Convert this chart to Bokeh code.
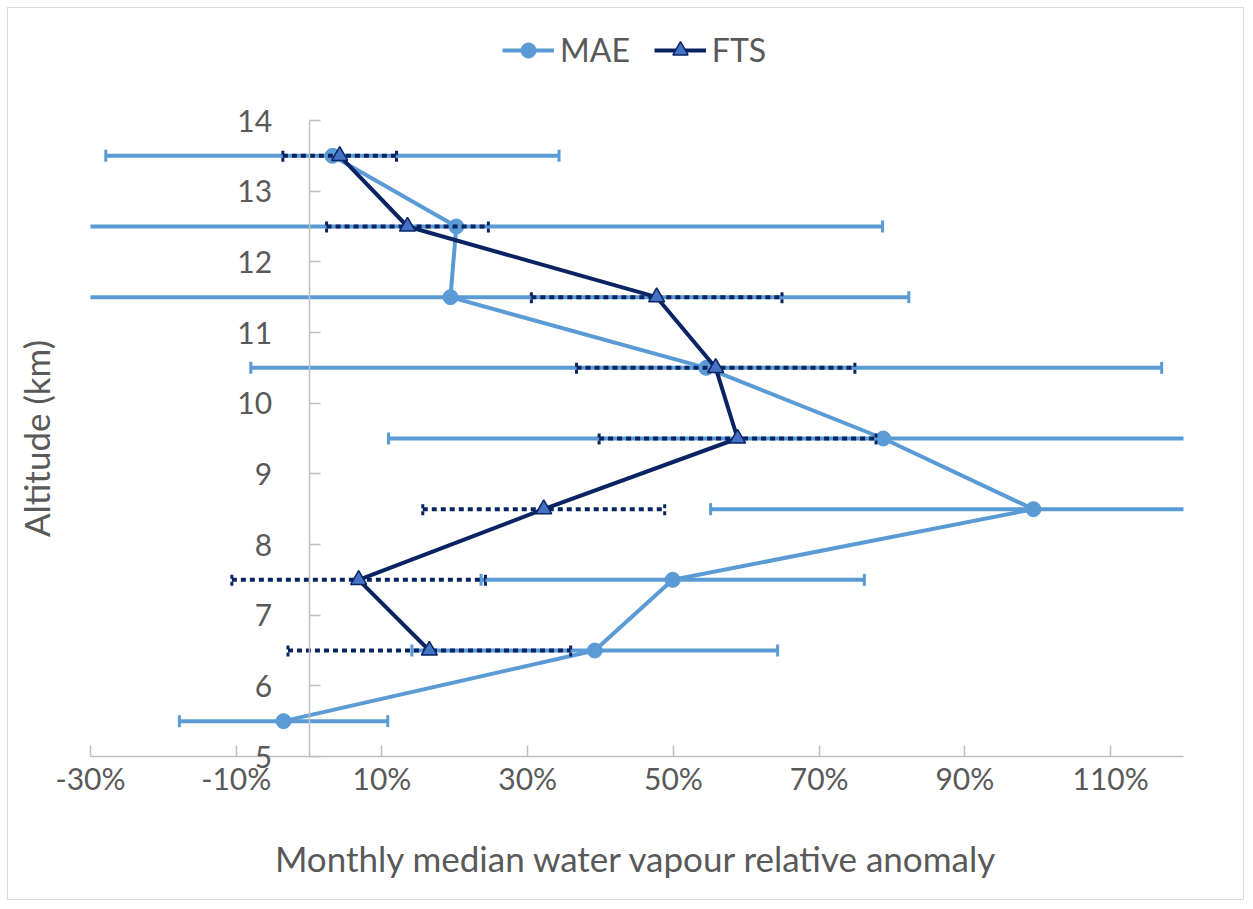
import numpy as np
from bokeh.plotting import figure
from bokeh.models import (ColumnDataSource, FixedTicker, LinearAxis,
                          PrintfTickFormatter, Legend, LegendItem, Range1d)
from bokeh.embed import file_html
from bokeh.resources import INLINE

# Altitude levels (km) and monthly median relative anomalies (%)
altitude_mae = [13.5, 12.5, 11.5, 10.5, 9.5, 8.5, 7.5, 6.5, 5.5]
mae = [3.2, 20.2, 19.4, 54.5, 78.8, 99.4, 49.9, 39.2, -3.5]
mae_err = [31.1, 58.5, 62.9, 62.5, 67.9, 44.3, 26.3, 25.1, 14.3]

altitude_fts = [13.5, 12.5, 11.5, 10.5, 9.5, 8.5, 7.5, 6.5]
fts = [4.2, 13.5, 47.7, 55.8, 58.8, 32.2, 6.8, 16.5]
fts_err = [7.8, 11.1, 17.2, 19.1, 19.0, 16.6, 17.4, 19.4]

x_ticks = [-30, -10, 10, 30, 50, 70, 90, 110]
y_ticks = list(range(5, 15))
x_min, x_max = -30, 120
y_min, y_max = 5, 14

FONT = "Lato"
TEXT = "#595959"
AXIS = "#BFBFBF"
MAE_COLOR = "#5B9BD5"
FTS_COLOR = "#0A2463"
FTS_FILL = "#4472C4"
TICK_FS = "30px"
TITLE_FS = "35px"
LEGEND_FS = "32px"

W, H = 1237, 893
# pixel extent of the axes, and the room left around them inside the frame
X_AXIS_PX, Y_AXIS_PX = 1093, 636
PAD_L, PAD_R, PAD_T, PAD_B = 82, 62, 112, 145
x_per_px = (x_max - x_min) / X_AXIS_PX
y_per_px = (y_max - y_min) / Y_AXIS_PX


def bar_source(alt, val, err):
    """Error bars limited to the axis span, caps only where the bar ends."""
    val = np.asarray(val, dtype=float)
    err = np.asarray(err, dtype=float)
    lo, hi = val - err, val + err
    return ColumnDataSource(dict(
        y=alt, x=val,
        lo=np.clip(lo, x_min, x_max), hi=np.clip(hi, x_min, x_max),
        lo_cap=np.where(lo >= x_min, lo, np.nan),
        hi_cap=np.where(hi <= x_max, hi, np.nan)))


src_mae = bar_source(altitude_mae, mae, mae_err)
src_fts = bar_source(altitude_fts, fts, fts_err)

p = figure(width=W, height=H, output_backend="svg", toolbar_location=None,
           x_range=Range1d(x_min - PAD_L * x_per_px, x_max + PAD_R * x_per_px),
           y_range=Range1d(y_min - PAD_B * y_per_px, y_max + PAD_T * y_per_px),
           x_axis_location=None, y_axis_location=None,
           min_border=0)
p.styles = {"margin-left": "7px", "margin-top": "7px",
            "border": "1px solid #D9D9D9"}
p.grid.visible = False
p.outline_line_color = None


def style_axis(axis, label_standoff, title, title_standoff):
    axis.major_tick_in = 11
    axis.major_tick_out = 0
    axis.minor_tick_in = axis.minor_tick_out = 0
    axis.axis_line_color = AXIS
    axis.axis_line_width = 1.5
    axis.major_tick_line_color = AXIS
    axis.major_tick_line_width = 1.5
    axis.major_label_text_font = FONT
    axis.major_label_text_font_size = TICK_FS
    axis.major_label_text_color = TEXT
    axis.major_label_standoff = label_standoff
    axis.axis_label = title
    axis.axis_label_text_font = FONT
    axis.axis_label_text_font_size = TITLE_FS
    axis.axis_label_text_font_style = "normal"
    axis.axis_label_text_color = TEXT
    axis.axis_label_standoff = title_standoff


# anomaly axis at 5 km
xa = LinearAxis(fixed_location=y_min, ticker=FixedTicker(ticks=x_ticks),
                formatter=PrintfTickFormatter(format="%d%%"),
                bounds=(x_min, x_max))
style_axis(xa, 3, "Monthly median water vapour relative anomaly", 38)
p.add_layout(xa, "below")

# altitude axis drawn through zero
ya = LinearAxis(fixed_location=0, ticker=FixedTicker(ticks=y_ticks),
                bounds=(y_min, y_max))
style_axis(ya, 37, "Altitude (km)", 178)
p.add_layout(ya, "left")

# MAE error bars
p.segment(x0="lo", y0="y", x1="hi", y1="y", source=src_mae,
          line_color=MAE_COLOR, line_width=4)
for col in ("lo_cap", "hi_cap"):
    p.scatter(x=col, y="y", source=src_mae, marker="dash", angle=np.pi / 2,
              size=12, line_color=MAE_COLOR, line_width=3)

# MAE profile
mae_line = p.line(x="x", y="y", source=src_mae, line_color=MAE_COLOR, line_width=4)
mae_pts = p.scatter(x="x", y="y", source=src_mae, marker="circle", size=15,
                    fill_color=MAE_COLOR, line_color=MAE_COLOR)

# FTS error bars (dotted)
p.segment(x0="lo", y0="y", x1="hi", y1="y", source=src_fts,
          line_color=FTS_COLOR, line_width=4, line_dash="5 4")
for col in ("lo_cap", "hi_cap"):
    p.scatter(x=col, y="y", source=src_fts, marker="dash", angle=np.pi / 2,
              size=12, line_color=FTS_COLOR, line_width=3, line_dash="4 3")

# FTS profile
fts_line = p.line(x="x", y="y", source=src_fts, line_color=FTS_COLOR, line_width=4)
fts_pts = p.scatter(x="x", y="y", source=src_fts, marker="triangle", size=16,
                    fill_color=FTS_FILL, line_color=FTS_COLOR, line_width=1.5)

# legend centred above the curves
legend = Legend(items=[LegendItem(label="MAE", renderers=[mae_line, mae_pts]),
                       LegendItem(label="FTS", renderers=[fts_line, fts_pts])],
                orientation="horizontal", location=(494, H - 42 - 38 // 2),
                label_text_font=FONT, label_text_font_size=LEGEND_FS,
                label_text_color=TEXT, glyph_width=52, glyph_height=38,
                label_height=38, label_standoff=6, spacing=24, padding=0,
                margin=0, border_line_color=None, background_fill_alpha=0)
p.add_layout(legend, "center")

open("out.html", "w").write(file_html(p, INLINE))
